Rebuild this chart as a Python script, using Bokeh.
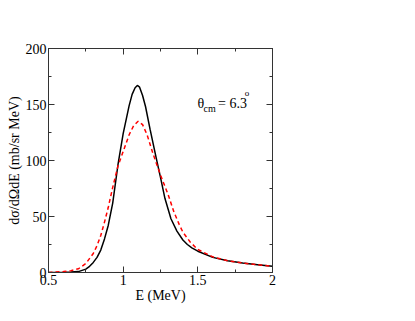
from bokeh.plotting import figure
from bokeh.models import LinearAxis, FixedTicker, Range1d, Label, Title, CustomLabelingPolicy
from bokeh.embed import file_html
from bokeh.resources import INLINE

# Data
E_black = [0.50, 0.60, 0.65, 0.70, 0.75, 0.775, 0.80, 0.825, 0.85, 0.875, 0.90, 0.93, 0.965, 1.00,
           1.04, 1.06, 1.08, 1.095, 1.11, 1.13, 1.15, 1.18, 1.22, 1.25, 1.28, 1.32, 1.36, 1.40,
           1.43, 1.46, 1.50, 1.60, 1.70, 1.80, 1.90, 2.00]
xs_black = [0.0, 0.2, 0.4, 0.8, 3.0, 5.5, 9.0, 13.5, 20.0, 30.0, 42.0, 62.0, 96.0, 124.0,
            149.0, 159.0, 165.0, 167.0, 165.5, 158.0, 148.0, 128.0, 103.0, 85.0, 66.0, 48.0, 37.0, 29.0,
            25.0, 22.0, 19.0, 13.5, 10.5, 8.5, 7.0, 5.5]

E_red = [0.50, 0.60, 0.65, 0.70, 0.75, 0.80, 0.825, 0.85, 0.875, 0.90, 0.93, 0.965, 1.00, 1.04,
         1.07, 1.10, 1.13, 1.16, 1.20, 1.25, 1.30, 1.34, 1.375, 1.40, 1.45, 1.50, 1.60, 1.70,
         1.80, 1.90, 2.00]
xs_red = [0.0, 0.8, 1.6, 3.3, 8.0, 17.0, 24.0, 33.0, 45.0, 58.0, 76.0, 95.0, 108.0, 123.0,
          131.0, 135.0, 132.0, 123.0, 106.0, 87.0, 70.0, 54.0, 43.0, 36.0, 27.0, 20.5, 14.0, 10.5,
          8.5, 7.0, 5.5]

x_major = [0.5, 1.0, 1.5, 2.0]
x_minor = [0.75, 1.25, 1.75]
y_major = [0, 50, 100, 150, 200]
y_minor = [25, 75, 125, 175]

FONT = "Liberation Serif"
AX = "#333333"

p = figure(frame_width=224, frame_height=224, output_backend="svg", toolbar_location=None,
           x_range=Range1d(0.5, 2.0), y_range=Range1d(0, 200),
           min_border_left=48, min_border_top=48, min_border_right=135, min_border_bottom=33,
           x_axis_label="E (MeV)")
p.xgrid.visible = False
p.ygrid.visible = False
p.outline_line_color = AX
p.background_fill_color = "white"
p.border_fill_color = "white"

p.line(E_black, xs_black, line_color="black", line_width=1.5)
p.line(E_red, xs_red, line_color="red", line_width=1.5, line_dash="4 3")

def style(ax, ticks, minor, labels=True):
    ax.ticker = FixedTicker(ticks=ticks, minor_ticks=minor)
    ax.axis_line_color = AX
    ax.major_tick_line_color = AX
    ax.minor_tick_line_color = AX
    ax.major_tick_in = 6
    ax.major_tick_out = 0
    ax.minor_tick_in = 3
    ax.minor_tick_out = 0
    if labels:
        ax.major_label_text_font = FONT
        ax.major_label_text_font_size = "14px"
        ax.major_label_text_color = "black"
        ax.major_label_standoff = 2
        ax.axis_label_text_font = FONT
        ax.axis_label_text_font_size = "14px"
        ax.axis_label_text_font_style = "normal"
        ax.axis_label_text_color = "black"
        ax.axis_label_standoff = 0
    else:
        ax.major_label_policy = CustomLabelingPolicy(code="return []")
        ax.major_label_standoff = 0

style(p.xaxis[0], x_major, x_minor)
style(p.yaxis[0], y_major, y_minor)
top = LinearAxis()
style(top, x_major, x_minor, labels=False)
p.add_layout(top, "above")
right = LinearAxis()
style(right, y_major, y_minor, labels=False)
p.add_layout(right, "right")

# y-axis title, shifted a little below the frame centre as in the reference
p.add_layout(Title(text="dσ/dΩdE (mb/sr MeV)", align="center", offset=-16, standoff=2,
                   text_font=FONT, text_font_size="14px", text_font_style="normal",
                   text_color="black"), "left")

for txt, x, y, size in [("θ", 1.498, 151, "14px"), ("cm", 1.538, 146.5, "10px"),
                        ("= 6.3", 1.635, 151, "14px"), ("o", 1.815, 160, "9px")]:
    p.add_layout(Label(x=x, y=y, text=txt, text_font=FONT, text_font_size=size,
                       text_baseline="middle", text_align="left", text_color="black"))

open("out.html", "w").write(file_html(p, INLINE))
